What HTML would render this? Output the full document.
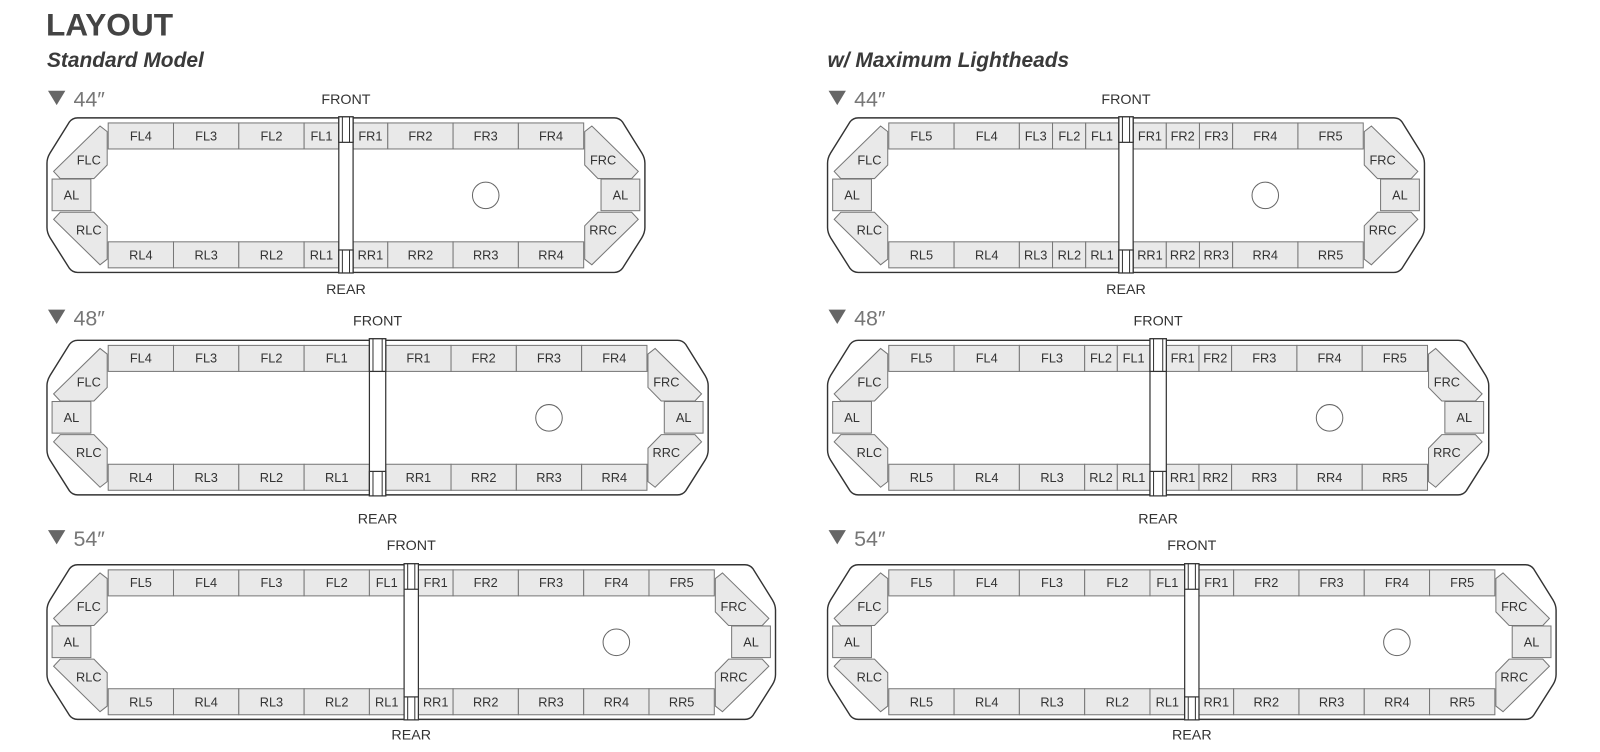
<!DOCTYPE html>
<html><head><meta charset="utf-8"><style>
html,body{margin:0;padding:0;background:#fff;}
svg{display:block;}
.s{fill:#e9e9e9;stroke:#777;stroke-width:1;}
.o{fill:#fff;stroke:#333;stroke-width:1.4;}
.t{font-family:"Liberation Sans",sans-serif;font-size:12.5px;fill:#333;text-anchor:middle;}
.fr{font-family:"Liberation Sans",sans-serif;font-size:14px;fill:#333;text-anchor:middle;}
.sz{font-family:"Liberation Sans",sans-serif;font-size:21px;fill:#777;}
.tri{fill:#666;}
.h{font-family:"Liberation Sans",sans-serif;font-size:20.5px;font-weight:bold;font-style:italic;fill:#3a3a3a;}
.bar{fill:#fff;stroke:#333;stroke-width:1.2;}
</style></head><body>
<svg width="1600" height="752" viewBox="0 0 1568 737" xmlns="http://www.w3.org/2000/svg">
<defs>
<g id="le">
<polygon class="s" points="-1,129 -8,123.5 -53.5,168 -47,175 -14,175 -1,161.7"/>
<polygon class="s" points="-1,254 -8,259.5 -53.5,215 -47,208 -14,208 -1,221.3"/>
<rect class="s" x="-55" y="175.5" width="38" height="31"/>
</g>
<g id="re">
<polygon class="s" points="1,129 8,123.5 53.5,168 47,175 14,175 1,161.7"/>
<polygon class="s" points="1,254 8,259.5 53.5,215 47,208 14,208 1,221.3"/>
<rect class="s" x="17" y="175.5" width="38" height="31"/>
</g>
</defs>

<text x="45" y="35" style="font-family:'Liberation Sans',sans-serif;font-size:31px;font-weight:bold;fill:#444">LAYOUT</text>
<text class="h" x="46" y="65.5">Standard Model</text>
<text class="h" x="811" y="65.5">w/ Maximum Lightheads</text>

<!-- ========== L44 ========== -->
<g>
<polygon class="tri" points="47,89 64,89 55.5,103"/><text class="sz" x="72" y="104.5">44″</text>
<path class="o" d="M76 115.5 H602 Q607 115.5 610 119.5 L629 150 Q632 155 632 160 V223 Q632 228 629 233 L610 263 Q607 267 602 267 H76 Q71 267 68 263 L49 233 Q46 228 46 223 V160 Q46 155 49 150 L68 119.5 Q71 115.5 76 115.5 Z"/>
<use href="#le" x="106"/><use href="#re" x="572"/>
<text class="t" x="87" y="161">FLC</text><text class="t" x="87" y="230">RLC</text><text class="t" x="70" y="195.5">AL</text>
<text class="t" x="591" y="161">FRC</text><text class="t" x="591" y="230">RRC</text><text class="t" x="608" y="195.5">AL</text>
<g id="r1">
<rect class="s" x="106" y="120.5" width="64" height="25.5"/><rect class="s" x="170" y="120.5" width="64" height="25.5"/><rect class="s" x="234" y="120.5" width="64" height="25.5"/><rect class="s" x="298" y="120.5" width="34" height="25.5"/>
<rect class="s" x="346" y="120.5" width="34" height="25.5"/><rect class="s" x="380" y="120.5" width="64" height="25.5"/><rect class="s" x="444" y="120.5" width="64" height="25.5"/><rect class="s" x="508" y="120.5" width="64" height="25.5"/>
</g>
<use href="#r1" y="116.5"/>
<text class="t" x="138" y="137.5">FL4</text><text class="t" x="202" y="137.5">FL3</text><text class="t" x="266" y="137.5">FL2</text><text class="t" x="315" y="137.5">FL1</text>
<text class="t" x="363" y="137.5">FR1</text><text class="t" x="412" y="137.5">FR2</text><text class="t" x="476" y="137.5">FR3</text><text class="t" x="540" y="137.5">FR4</text>
<text class="t" x="138" y="254.5">RL4</text><text class="t" x="202" y="254.5">RL3</text><text class="t" x="266" y="254.5">RL2</text><text class="t" x="315" y="254.5">RL1</text>
<text class="t" x="363" y="254.5">RR1</text><text class="t" x="412" y="254.5">RR2</text><text class="t" x="476" y="254.5">RR3</text><text class="t" x="540" y="254.5">RR4</text>
<circle cx="476" cy="191.5" r="13" fill="#fff" stroke="#666" stroke-width="1"/>
<rect class="bar" x="332" y="114.5" width="14" height="153"/>
<rect class="bar" x="332" y="114.5" width="14" height="25"/><rect class="bar" x="332" y="245" width="14" height="22.5"/>
<path d="M335.5 114.5V139.5M342.5 114.5V139.5M335.5 245V267.5M342.5 245V267.5" stroke="#333" stroke-width="1"/>
<text class="fr" x="339" y="102">FRONT</text><text class="fr" x="339" y="288">REAR</text>
</g>

<!-- ========== L48 ========== -->
<g transform="translate(0,218)">
<polygon class="tri" points="47,85.5 64,85.5 55.5,99.5"/><text class="sz" x="72" y="101">48″</text>
<path class="o" d="M76 115.5 H664 Q669 115.5 672 119.5 L691 150 Q694 155 694 160 V223 Q694 228 691 233 L672 263 Q669 267 664 267 H76 Q71 267 68 263 L49 233 Q46 228 46 223 V160 Q46 155 49 150 L68 119.5 Q71 115.5 76 115.5 Z"/>
<use href="#le" x="106"/><use href="#re" x="634"/>
<text class="t" x="87" y="161">FLC</text><text class="t" x="87" y="230">RLC</text><text class="t" x="70" y="195.5">AL</text>
<text class="t" x="653" y="161">FRC</text><text class="t" x="653" y="230">RRC</text><text class="t" x="670" y="195.5">AL</text>
<g id="r2">
<rect class="s" x="106" y="120.5" width="64" height="25.5"/><rect class="s" x="170" y="120.5" width="64" height="25.5"/><rect class="s" x="234" y="120.5" width="64" height="25.5"/><rect class="s" x="298" y="120.5" width="64" height="25.5"/>
<rect class="s" x="378" y="120.5" width="64" height="25.5"/><rect class="s" x="442" y="120.5" width="64" height="25.5"/><rect class="s" x="506" y="120.5" width="64" height="25.5"/><rect class="s" x="570" y="120.5" width="64" height="25.5"/>
</g>
<use href="#r2" y="116.5"/>
<text class="t" x="138" y="137.5">FL4</text><text class="t" x="202" y="137.5">FL3</text><text class="t" x="266" y="137.5">FL2</text><text class="t" x="330" y="137.5">FL1</text>
<text class="t" x="410" y="137.5">FR1</text><text class="t" x="474" y="137.5">FR2</text><text class="t" x="538" y="137.5">FR3</text><text class="t" x="602" y="137.5">FR4</text>
<text class="t" x="138" y="254.5">RL4</text><text class="t" x="202" y="254.5">RL3</text><text class="t" x="266" y="254.5">RL2</text><text class="t" x="330" y="254.5">RL1</text>
<text class="t" x="410" y="254.5">RR1</text><text class="t" x="474" y="254.5">RR2</text><text class="t" x="538" y="254.5">RR3</text><text class="t" x="602" y="254.5">RR4</text>
<circle cx="538" cy="191.5" r="13" fill="#fff" stroke="#666" stroke-width="1"/>
<rect class="bar" x="362" y="114" width="16" height="154"/>
<rect class="bar" x="362" y="114" width="16" height="32"/><rect class="bar" x="362" y="244" width="16" height="24"/>
<path d="M365.5 114V146M374.5 114V146M365.5 244V268M374.5 244V268" stroke="#333" stroke-width="1"/>
<text class="fr" x="370" y="101">FRONT</text><text class="fr" x="370" y="295">REAR</text>
</g>

<!-- ========== L54 ========== -->
<g transform="translate(0,438)">
<polygon class="tri" points="47,81.5 64,81.5 55.5,95.5"/><text class="sz" x="72" y="97">54″</text>
<path class="o" d="M76 115.5 H730 Q735 115.5 738 119.5 L757 150 Q760 155 760 160 V223 Q760 228 757 233 L738 263 Q735 267 730 267 H76 Q71 267 68 263 L49 233 Q46 228 46 223 V160 Q46 155 49 150 L68 119.5 Q71 115.5 76 115.5 Z"/>
<use href="#le" x="106"/><use href="#re" x="700"/>
<text class="t" x="87" y="161">FLC</text><text class="t" x="87" y="230">RLC</text><text class="t" x="70" y="195.5">AL</text>
<text class="t" x="719" y="161">FRC</text><text class="t" x="719" y="230">RRC</text><text class="t" x="736" y="195.5">AL</text>
<g id="r3">
<rect class="s" x="106" y="120.5" width="64" height="25.5"/><rect class="s" x="170" y="120.5" width="64" height="25.5"/><rect class="s" x="234" y="120.5" width="64" height="25.5"/><rect class="s" x="298" y="120.5" width="64" height="25.5"/><rect class="s" x="362" y="120.5" width="34" height="25.5"/>
<rect class="s" x="410" y="120.5" width="34" height="25.5"/><rect class="s" x="444" y="120.5" width="64" height="25.5"/><rect class="s" x="508" y="120.5" width="64" height="25.5"/><rect class="s" x="572" y="120.5" width="64" height="25.5"/><rect class="s" x="636" y="120.5" width="64" height="25.5"/>
</g>
<use href="#r3" y="116.5"/>
<text class="t" x="138" y="137.5">FL5</text><text class="t" x="202" y="137.5">FL4</text><text class="t" x="266" y="137.5">FL3</text><text class="t" x="330" y="137.5">FL2</text><text class="t" x="379" y="137.5">FL1</text>
<text class="t" x="427" y="137.5">FR1</text><text class="t" x="476" y="137.5">FR2</text><text class="t" x="540" y="137.5">FR3</text><text class="t" x="604" y="137.5">FR4</text><text class="t" x="668" y="137.5">FR5</text>
<text class="t" x="138" y="254.5">RL5</text><text class="t" x="202" y="254.5">RL4</text><text class="t" x="266" y="254.5">RL3</text><text class="t" x="330" y="254.5">RL2</text><text class="t" x="379" y="254.5">RL1</text>
<text class="t" x="427" y="254.5">RR1</text><text class="t" x="476" y="254.5">RR2</text><text class="t" x="540" y="254.5">RR3</text><text class="t" x="604" y="254.5">RR4</text><text class="t" x="668" y="254.5">RR5</text>
<circle cx="604" cy="191.5" r="13" fill="#fff" stroke="#666" stroke-width="1"/>
<rect class="bar" x="396" y="114.5" width="14" height="153"/>
<rect class="bar" x="396" y="114.5" width="14" height="25"/><rect class="bar" x="396" y="245" width="14" height="22.5"/>
<path d="M399.5 114.5V139.5M406.5 114.5V139.5M399.5 245V267.5M406.5 245V267.5" stroke="#333" stroke-width="1"/>
<text class="fr" x="403" y="101">FRONT</text><text class="fr" x="403" y="287">REAR</text>
</g>

<!-- ========== R44 ========== -->
<g>
<polygon class="tri" points="812,89 829,89 820.5,103"/><text class="sz" x="837" y="104.5">44″</text>
<path class="o" d="M841 115.5 H1366 Q1371 115.5 1374 119.5 L1393 150 Q1396 155 1396 160 V223 Q1396 228 1393 233 L1374 263 Q1371 267 1366 267 H841 Q836 267 833 263 L814 233 Q811 228 811 223 V160 Q811 155 814 150 L833 119.5 Q836 115.5 841 115.5 Z"/>
<use href="#le" x="871"/><use href="#re" x="1336"/>
<text class="t" x="852" y="161">FLC</text><text class="t" x="852" y="230">RLC</text><text class="t" x="835" y="195.5">AL</text>
<text class="t" x="1355" y="161">FRC</text><text class="t" x="1355" y="230">RRC</text><text class="t" x="1372" y="195.5">AL</text>
<g id="r4">
<rect class="s" x="871" y="120.5" width="64" height="25.5"/><rect class="s" x="935" y="120.5" width="64" height="25.5"/><rect class="s" x="999" y="120.5" width="32.5" height="25.5"/><rect class="s" x="1031.5" y="120.5" width="32.5" height="25.5"/><rect class="s" x="1064" y="120.5" width="32.5" height="25.5"/>
<rect class="s" x="1110.5" y="120.5" width="32.5" height="25.5"/><rect class="s" x="1143" y="120.5" width="32.5" height="25.5"/><rect class="s" x="1175.5" y="120.5" width="32.5" height="25.5"/><rect class="s" x="1208" y="120.5" width="64" height="25.5"/><rect class="s" x="1272" y="120.5" width="64" height="25.5"/>
</g>
<use href="#r4" y="116.5"/>
<text class="t" x="903" y="137.5">FL5</text><text class="t" x="967" y="137.5">FL4</text><text class="t" x="1015" y="137.5">FL3</text><text class="t" x="1048" y="137.5">FL2</text><text class="t" x="1080" y="137.5">FL1</text>
<text class="t" x="1127" y="137.5">FR1</text><text class="t" x="1159" y="137.5">FR2</text><text class="t" x="1192" y="137.5">FR3</text><text class="t" x="1240" y="137.5">FR4</text><text class="t" x="1304" y="137.5">FR5</text>
<text class="t" x="903" y="254.5">RL5</text><text class="t" x="967" y="254.5">RL4</text><text class="t" x="1015" y="254.5">RL3</text><text class="t" x="1048" y="254.5">RL2</text><text class="t" x="1080" y="254.5">RL1</text>
<text class="t" x="1127" y="254.5">RR1</text><text class="t" x="1159" y="254.5">RR2</text><text class="t" x="1192" y="254.5">RR3</text><text class="t" x="1240" y="254.5">RR4</text><text class="t" x="1304" y="254.5">RR5</text>
<circle cx="1240" cy="191.5" r="13" fill="#fff" stroke="#666" stroke-width="1"/>
<rect class="bar" x="1096.5" y="114.5" width="14" height="153"/>
<rect class="bar" x="1096.5" y="114.5" width="14" height="25"/><rect class="bar" x="1096.5" y="245" width="14" height="22.5"/>
<path d="M1100 114.5V139.5M1107 114.5V139.5M1100 245V267.5M1107 245V267.5" stroke="#333" stroke-width="1"/>
<text class="fr" x="1103.5" y="102">FRONT</text><text class="fr" x="1103.5" y="288">REAR</text>
</g>

<!-- ========== R48 ========== -->
<g transform="translate(0,218)">
<polygon class="tri" points="812,85.5 829,85.5 820.5,99.5"/><text class="sz" x="837" y="101">48″</text>
<path class="o" d="M841 115.5 H1429 Q1434 115.5 1437 119.5 L1456 150 Q1459 155 1459 160 V223 Q1459 228 1456 233 L1437 263 Q1434 267 1429 267 H841 Q836 267 833 263 L814 233 Q811 228 811 223 V160 Q811 155 814 150 L833 119.5 Q836 115.5 841 115.5 Z"/>
<use href="#le" x="871"/><use href="#re" x="1399"/>
<text class="t" x="852" y="161">FLC</text><text class="t" x="852" y="230">RLC</text><text class="t" x="835" y="195.5">AL</text>
<text class="t" x="1418" y="161">FRC</text><text class="t" x="1418" y="230">RRC</text><text class="t" x="1435" y="195.5">AL</text>
<g id="r5">
<rect class="s" x="871" y="120.5" width="64" height="25.5"/><rect class="s" x="935" y="120.5" width="64" height="25.5"/><rect class="s" x="999" y="120.5" width="64" height="25.5"/><rect class="s" x="1063" y="120.5" width="32" height="25.5"/><rect class="s" x="1095" y="120.5" width="32" height="25.5"/>
<rect class="s" x="1143" y="120.5" width="32" height="25.5"/><rect class="s" x="1175" y="120.5" width="32" height="25.5"/><rect class="s" x="1207" y="120.5" width="64" height="25.5"/><rect class="s" x="1271" y="120.5" width="64" height="25.5"/><rect class="s" x="1335" y="120.5" width="64" height="25.5"/>
</g>
<use href="#r5" y="116.5"/>
<text class="t" x="903" y="137.5">FL5</text><text class="t" x="967" y="137.5">FL4</text><text class="t" x="1031" y="137.5">FL3</text><text class="t" x="1079" y="137.5">FL2</text><text class="t" x="1111" y="137.5">FL1</text>
<text class="t" x="1159" y="137.5">FR1</text><text class="t" x="1191" y="137.5">FR2</text><text class="t" x="1239" y="137.5">FR3</text><text class="t" x="1303" y="137.5">FR4</text><text class="t" x="1367" y="137.5">FR5</text>
<text class="t" x="903" y="254.5">RL5</text><text class="t" x="967" y="254.5">RL4</text><text class="t" x="1031" y="254.5">RL3</text><text class="t" x="1079" y="254.5">RL2</text><text class="t" x="1111" y="254.5">RL1</text>
<text class="t" x="1159" y="254.5">RR1</text><text class="t" x="1191" y="254.5">RR2</text><text class="t" x="1239" y="254.5">RR3</text><text class="t" x="1303" y="254.5">RR4</text><text class="t" x="1367" y="254.5">RR5</text>
<circle cx="1303" cy="191.5" r="13" fill="#fff" stroke="#666" stroke-width="1"/>
<rect class="bar" x="1127" y="114" width="16" height="154"/>
<rect class="bar" x="1127" y="114" width="16" height="32"/><rect class="bar" x="1127" y="244" width="16" height="24"/>
<path d="M1130.5 114V146M1139.5 114V146M1130.5 244V268M1139.5 244V268" stroke="#333" stroke-width="1"/>
<text class="fr" x="1135" y="101">FRONT</text><text class="fr" x="1135" y="295">REAR</text>
</g>

<!-- ========== R54 ========== -->
<g transform="translate(0,438)">
<polygon class="tri" points="812,81.5 829,81.5 820.5,95.5"/><text class="sz" x="837" y="97">54″</text>
<path class="o" d="M841 115.5 H1495 Q1500 115.5 1503 119.5 L1522 150 Q1525 155 1525 160 V223 Q1525 228 1522 233 L1503 263 Q1500 267 1495 267 H841 Q836 267 833 263 L814 233 Q811 228 811 223 V160 Q811 155 814 150 L833 119.5 Q836 115.5 841 115.5 Z"/>
<use href="#le" x="871"/><use href="#re" x="1465"/>
<text class="t" x="852" y="161">FLC</text><text class="t" x="852" y="230">RLC</text><text class="t" x="835" y="195.5">AL</text>
<text class="t" x="1484" y="161">FRC</text><text class="t" x="1484" y="230">RRC</text><text class="t" x="1501" y="195.5">AL</text>
<g id="r6">
<rect class="s" x="871" y="120.5" width="64" height="25.5"/><rect class="s" x="935" y="120.5" width="64" height="25.5"/><rect class="s" x="999" y="120.5" width="64" height="25.5"/><rect class="s" x="1063" y="120.5" width="64" height="25.5"/><rect class="s" x="1127" y="120.5" width="34" height="25.5"/>
<rect class="s" x="1175" y="120.5" width="34" height="25.5"/><rect class="s" x="1209" y="120.5" width="64" height="25.5"/><rect class="s" x="1273" y="120.5" width="64" height="25.5"/><rect class="s" x="1337" y="120.5" width="64" height="25.5"/><rect class="s" x="1401" y="120.5" width="64" height="25.5"/>
</g>
<use href="#r6" y="116.5"/>
<text class="t" x="903" y="137.5">FL5</text><text class="t" x="967" y="137.5">FL4</text><text class="t" x="1031" y="137.5">FL3</text><text class="t" x="1095" y="137.5">FL2</text><text class="t" x="1144" y="137.5">FL1</text>
<text class="t" x="1192" y="137.5">FR1</text><text class="t" x="1241" y="137.5">FR2</text><text class="t" x="1305" y="137.5">FR3</text><text class="t" x="1369" y="137.5">FR4</text><text class="t" x="1433" y="137.5">FR5</text>
<text class="t" x="903" y="254.5">RL5</text><text class="t" x="967" y="254.5">RL4</text><text class="t" x="1031" y="254.5">RL3</text><text class="t" x="1095" y="254.5">RL2</text><text class="t" x="1144" y="254.5">RL1</text>
<text class="t" x="1192" y="254.5">RR1</text><text class="t" x="1241" y="254.5">RR2</text><text class="t" x="1305" y="254.5">RR3</text><text class="t" x="1369" y="254.5">RR4</text><text class="t" x="1433" y="254.5">RR5</text>
<circle cx="1369" cy="191.5" r="13" fill="#fff" stroke="#666" stroke-width="1"/>
<rect class="bar" x="1161" y="114.5" width="14" height="153"/>
<rect class="bar" x="1161" y="114.5" width="14" height="25"/><rect class="bar" x="1161" y="245" width="14" height="22.5"/>
<path d="M1164.5 114.5V139.5M1171.5 114.5V139.5M1164.5 245V267.5M1171.5 245V267.5" stroke="#333" stroke-width="1"/>
<text class="fr" x="1168" y="101">FRONT</text><text class="fr" x="1168" y="287">REAR</text>
</g>
</svg>
</body></html>
